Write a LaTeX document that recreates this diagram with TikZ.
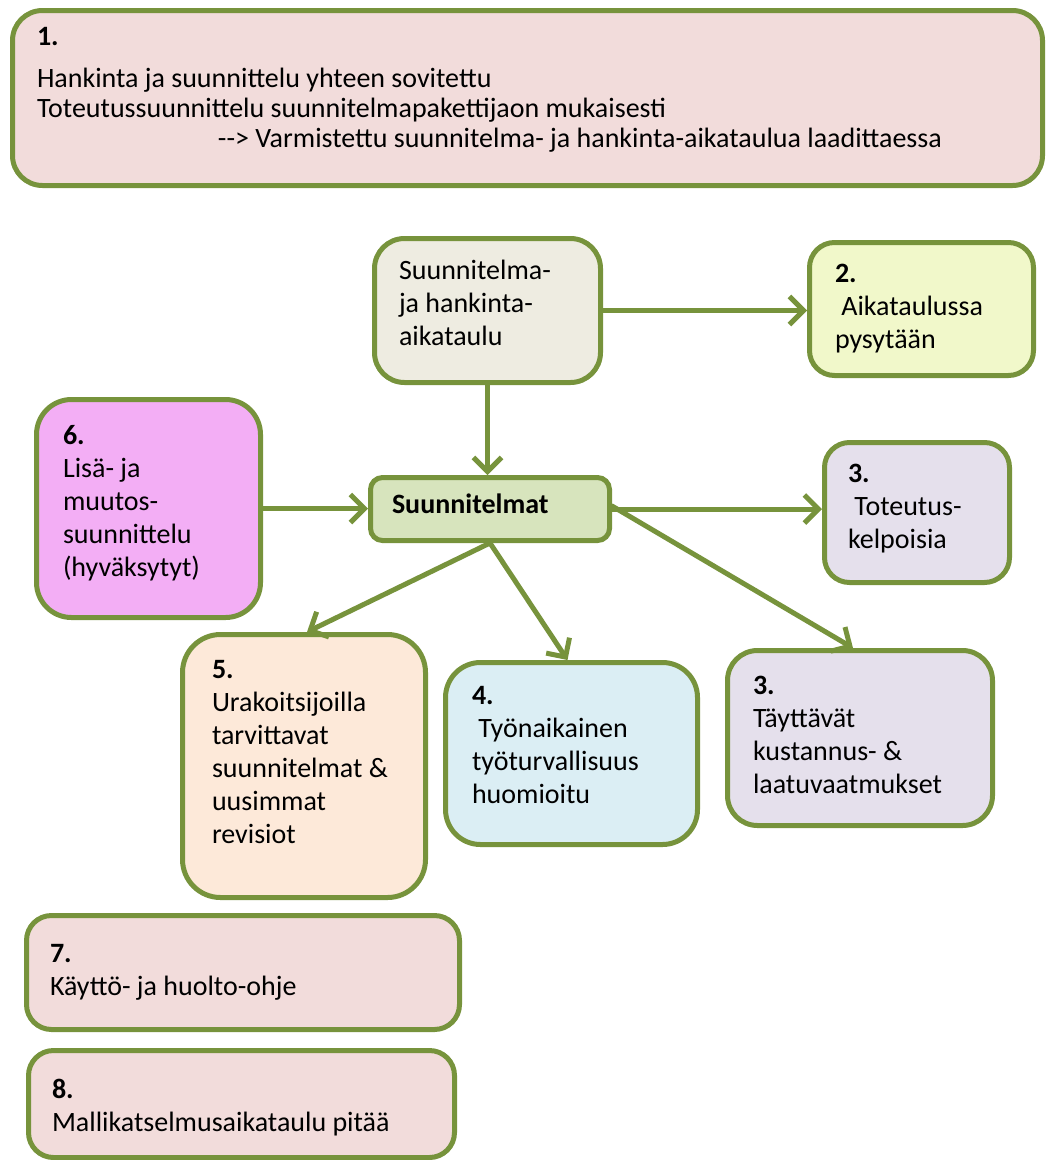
\documentclass[tikz,border=0pt]{standalone}
\usepackage{fontspec}
\setmainfont{Carlito}
\usetikzlibrary{arrows.meta}
\definecolor{edgeg}{HTML}{77933C}
\definecolor{pinkf}{HTML}{F2DCDB}
\definecolor{beigef}{HTML}{EEECE1}
\definecolor{yellowf}{HTML}{F1F8CA}
\definecolor{lavf}{HTML}{E5E0EC}
\definecolor{magf}{HTML}{F3AEF5}
\definecolor{smf}{HTML}{D7E4BD}
\definecolor{peachf}{HTML}{FDE9D9}
\definecolor{bluef}{HTML}{DBEEF4}
\newcommand\tx[1]{\begin{tabular}[t]{@{}l@{}}#1\end{tabular}}
\begin{document}
\begin{tikzpicture}[x=1pt,y=-1pt,
  box/.style={draw=edgeg,line width=5pt,anchor=north west,inner sep=0pt},
  txt/.style={anchor=base west,inner sep=0pt,outer sep=0pt,text=black,
    font=\fontsize{28}{33}\selectfont},
  arr/.style={draw=edgeg,line width=5pt,line cap=round,line join=round,
    -{Straight Barb[length=14pt,width=28pt]}}]
\useasboundingbox (0,0) rectangle (1045,1160);
\newcommand\boxat[7]{%
  \node[box,fill=#2,rounded corners=#7,minimum width=#5-#3,minimum height=#6-#4] (#1) at (#3,#4) {};}
% boxes
\boxat{B1}{pinkf}{10}{8}{1040}{183}{30pt}
\boxat{SJH}{beigef}{372}{236}{598}{380}{30pt}
\boxat{B2}{yellowf}{807}{240}{1031}{373}{25pt}
\boxat{B3a}{lavf}{822}{440}{1007}{580}{25pt}
\boxat{B6}{magf}{34}{397}{258}{615}{35pt}
\boxat{SM}{smf}{368}{475}{607}{538}{12pt}
\boxat{B5}{peachf}{180}{632}{423}{895}{38pt}
\boxat{B4}{bluef}{443}{660}{695}{842}{35pt}
\boxat{B3b}{lavf}{725}{648}{990}{823}{30pt}
\boxat{B7}{pinkf}{24}{913}{457}{1027}{25pt}
\boxat{B8}{pinkf}{26}{1048}{452}{1155}{25pt}
% texts
\node[txt,font=\fontsize{28}{30}\selectfont] (T1) at (37,45) {\tx{\textbf{1.}\\[12pt]
  Hankinta ja suunnittelu yhteen sovitettu\\
  Toteutussuunnittelu suunnitelmapakettijaon mukaisesti\\
  \hspace*{181pt}-\kern0pt-\kern0pt> Varmistettu suunnitelma- ja hankinta-aikataulua laadittaessa}};
\node[txt] (TSJH) at (399,279) {\tx{Suunnitelma-\\ja hankinta-\\aikataulu}};
\node[txt] (TSM) at (392,513) {\textbf{Suunnitelmat}};
\node[txt] (T2) at (835,282) {\tx{\textbf{2.}\\\ Aikataulussa\\pysytään}};
\node[txt] (T3a) at (848,482) {\tx{\textbf{3.}\\\ Toteutus-\\kelpoisia}};
\node[txt] (T6) at (63,444) {\tx{\textbf{6.}\\Lisä- ja\\muutos-\\suunnittelu\\(hyväksytyt)}};
\node[txt] (T5) at (212,678) {\tx{\textbf{5.}\\Urakoitsijoilla\\tarvittavat\\suunnitelmat \&\\uusimmat\\revisiot}};
\node[txt] (T4) at (472,704) {\tx{\textbf{4.}\\\ Työnaikainen\\työturvallisuus\\huomioitu}};
\node[txt] (T3b) at (753,694) {\tx{\textbf{3.}\\Täyttävät\\kustannus- \&\\laatuvaatmukset}};
\node[txt] (T7) at (50,962) {\tx{\textbf{7.}\\Käyttö- ja huolto-ohje}};
\node[txt] (T8) at (52,1098) {\tx{\textbf{8.}\\Mallikatselmusaikataulu pitää}};
% arrows
\draw[arr] (SJH.east) -- (SJH.east -| B2.west);
\draw[arr] (SJH.south) -- (SJH.south |- SM.north);
\draw[arr] (B6.east) -- (B6.east -| SM.west);
\draw[arr] (SM.east) -- (SM.east -| B3a.west);
\draw[arr] ([yshift=3pt]SM.east) -- ([xshift=-7pt]B3b.north);
\draw[arr] (SM.south) -- ([xshift=-4pt]B4.north);
\draw[arr] (SM.south) -- ([xshift=3pt]B5.north);
\end{tikzpicture}
\end{document}
